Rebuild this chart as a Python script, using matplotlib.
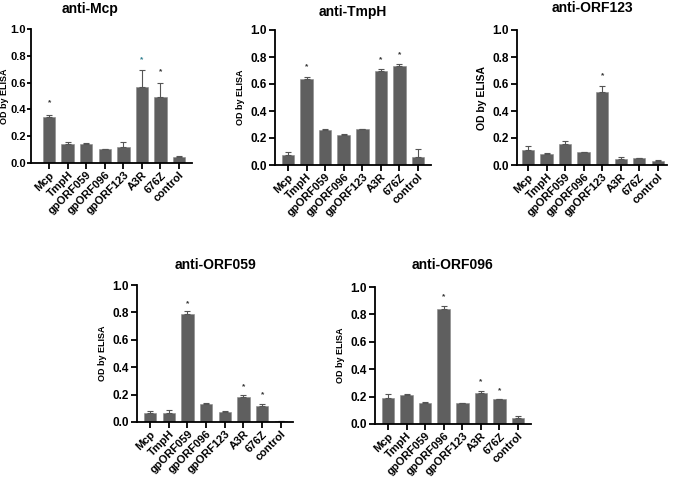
import numpy as np
import matplotlib
matplotlib.use("Agg")
import matplotlib.pyplot as plt

plt.rcParams['font.family'] = ['Liberation Sans', 'DejaVu Sans']
plt.rcParams['font.weight'] = 'bold'

antigens = ['Mcp', 'TmpH', 'gpORF059', 'gpORF096', 'gpORF123', 'A3R', '676Z', 'control']

# anti-Mcp
mcp_mean = [0.34, 0.14, 0.145, 0.105, 0.12, 0.57, 0.49, 0.045]
mcp_err = [0.02, 0.015, 0.007, 0.003, 0.035, 0.125, 0.11, 0.008]
mcp_star_idx = [0, 5, 6]
mcp_star_y = [0.45, 0.77, 0.68]

# anti-TmpH
tmph_mean = [0.075, 0.64, 0.26, 0.225, 0.265, 0.70, 0.73, 0.06]
tmph_err = [0.02, 0.01, 0.008, 0.005, 0.004, 0.008, 0.02, 0.06]
tmph_star_idx = [1, 5, 6]
tmph_star_y = [0.73, 0.78, 0.82]

# anti-ORF123
orf123_mean = [0.11, 0.085, 0.155, 0.095, 0.54, 0.045, 0.05, 0.03]
orf123_err = [0.03, 0.007, 0.025, 0.003, 0.045, 0.012, 0.005, 0.01]
orf123_star_idx = [4]
orf123_star_y = [0.66]

# anti-ORF059
orf059_mean = [0.066, 0.066, 0.79, 0.135, 0.073, 0.18, 0.12, 0.005]
orf059_err = [0.017, 0.019, 0.018, 0.005, 0.008, 0.015, 0.012, 0.002]
orf059_star_idx = [2, 5, 6]
orf059_star_y = [0.86, 0.26, 0.20]

# anti-ORF096
orf096_mean = [0.19, 0.215, 0.15, 0.84, 0.15, 0.227, 0.18, 0.046]
orf096_err = [0.03, 0.005, 0.01, 0.02, 0.005, 0.013, 0.003, 0.01]
orf096_star_idx = [3, 5, 6]
orf096_star_y = [0.93, 0.31, 0.24]

W, H = 674, 478
fig = plt.figure(figsize=(W / 100, H / 100), dpi=100)


def panel(box, xlim, title, title_xy, mean, err, star_idx, star_y, ylab_size=6.5,
          star_colors=None):
    left, right, top, bottom = box
    ax = fig.add_axes([left / W, 1 - bottom / H, (right - left) / W, (bottom - top) / H])
    x = np.arange(len(antigens))
    ax.bar(x, mean, width=0.67, color='#5f5f5f', edgecolor='#8a8a8a', linewidth=0.4,
           yerr=[np.zeros(len(err)), err], capsize=2.5,
           error_kw=dict(ecolor='#555555', elinewidth=0.8, capthick=0.8))
    ax.set_xlim(*xlim)
    ax.set_ylim(0, 1.0)
    ticks = np.arange(0, 1.01, 0.2)
    ax.set_yticks(ticks)
    ax.set_yticklabels([f'{v:.1f}' for v in ticks], fontsize=8.5, fontweight='bold')
    ax.set_xticks(x)
    ax.set_xticklabels(antigens, rotation=45, ha='right', rotation_mode='anchor',
                       fontsize=8, fontweight='bold')
    for s in ['top', 'right']:
        ax.spines[s].set_visible(False)
    for s in ['left', 'bottom']:
        ax.spines[s].set_linewidth(1.3)
    ax.tick_params(width=1.3, length=4, pad=2)
    ax.tick_params(axis='x', pad=1)
    ax.set_ylabel('OD by ELISA', fontsize=ylab_size, fontweight='bold')
    for k, (i, yv) in enumerate(zip(star_idx, star_y)):
        c = star_colors[k] if star_colors else '#333333'
        ax.text(i, yv, '*', ha='center', va='center', fontsize=6, color=c)
    fig.text(title_xy[0] / W, 1 - title_xy[1] / H, title, ha='center', va='center',
             fontsize=10, fontweight='bold')
    return ax


a1 = panel((31.5, 192, 29, 163), (-0.95, 7.7), 'anti-Mcp', (90, 9),
           mcp_mean, mcp_err, mcp_star_idx, mcp_star_y,
           star_colors=['#333333', '#2f7f8f', '#333333'])
a1.tick_params(axis='y', length=3, pad=1, labelsize=8)
a1.yaxis.set_label_coords(-0.14, 0.5)
a2 = panel((275, 431, 30, 165), (-0.7, 7.7), 'anti-TmpH', (353, 12),
           tmph_mean, tmph_err, tmph_star_idx, tmph_star_y)
a3 = panel((517, 667, 30, 165), (-0.6, 7.5), 'anti-ORF123', (592, 8),
           orf123_mean, orf123_err, orf123_star_idx, orf123_star_y, ylab_size=7.5)
a4 = panel((137, 293, 285, 422), (-0.7, 7.65), 'anti-ORF059', (215, 265),
           orf059_mean, orf059_err, orf059_star_idx, orf059_star_y)
a5 = panel((375, 531, 287, 424), (-0.7, 7.7), 'anti-ORF096', (453, 265),
           orf096_mean, orf096_err, orf096_star_idx, orf096_star_y)

fig.savefig('out.png', dpi=100)
